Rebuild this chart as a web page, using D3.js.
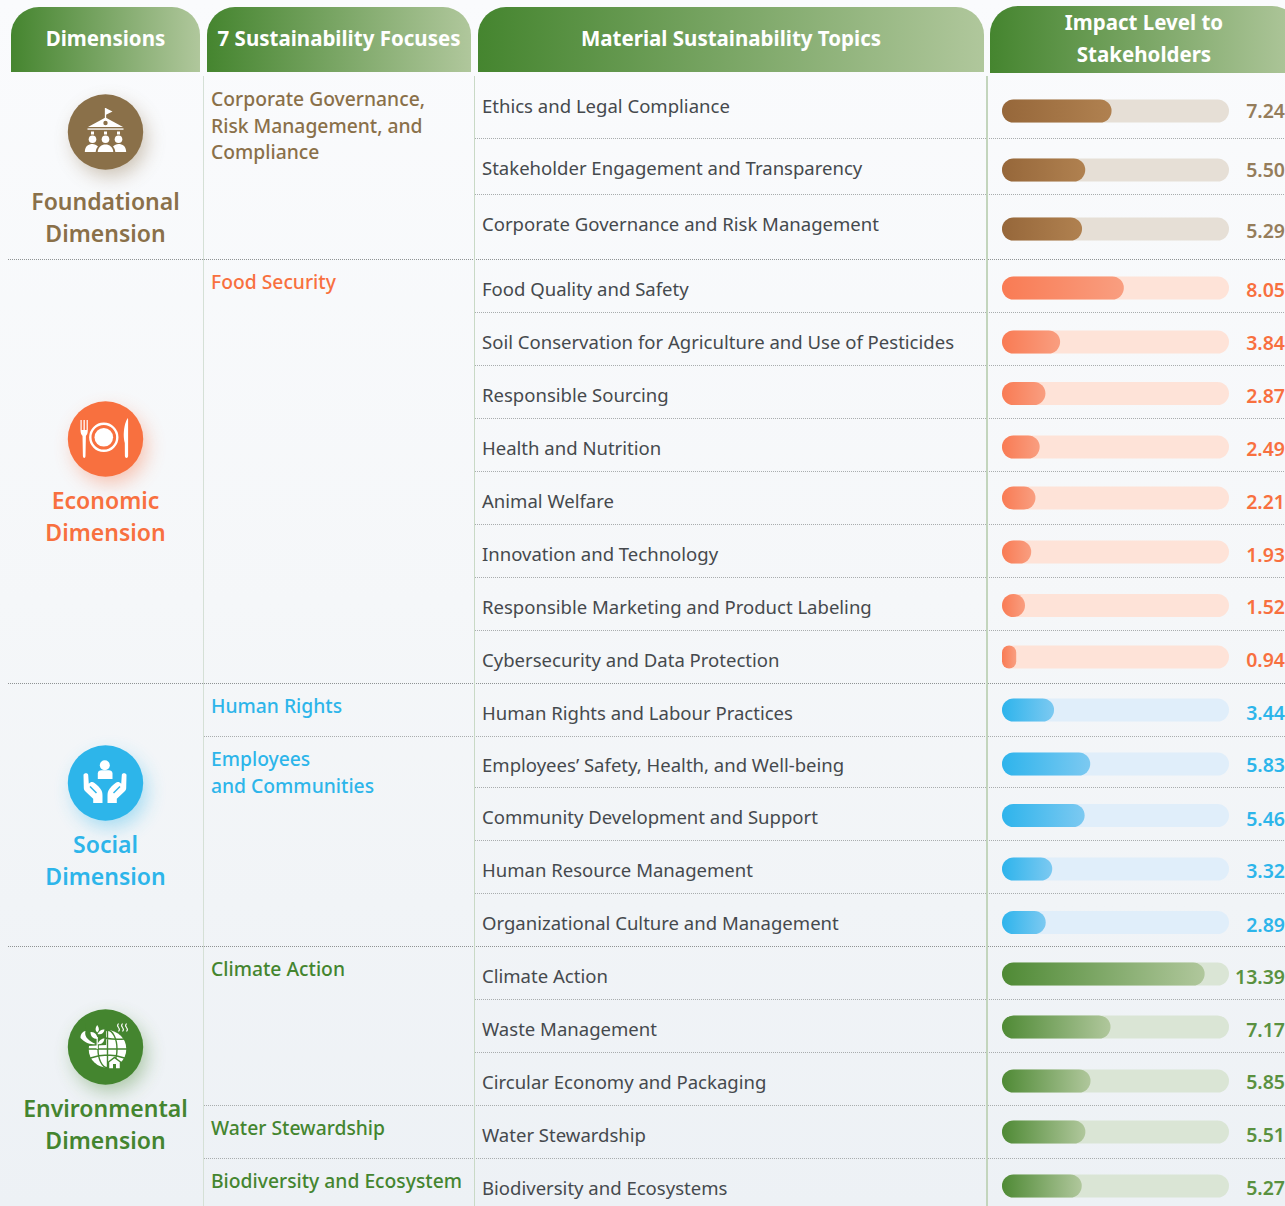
<!DOCTYPE html>
<html>
<head>
<meta charset="utf-8">
<script src="https://cdn.jsdelivr.net/npm/d3@7"></script>
<style>
  body { margin: 0; background: #f9fafc; overflow: hidden; }
  svg { display: block; }
  text { font-family: "Noto Sans", sans-serif; }
</style>
</head>
<body>
<div id="chart"></div>
<script>
// Chart values
const headers = [["Dimensions"], ["7 Sustainability Focuses"], ["Material Sustainability Topics"], ["Impact Level to", "Stakeholders"]];
const dimensions = ["Foundational", "Economic", "Social", "Environmental"];
const focuses = [
  ["Corporate Governance,", "Risk Management, and", "Compliance"],
  ["Food Security"],
  ["Human Rights"],
  ["Employees", "and Communities"],
  ["Climate Action"],
  ["Water Stewardship"],
  ["Biodiversity and Ecosystem"]
];
const focusDimension = [0, 1, 2, 2, 3, 3, 3];
const topics = [
  "Ethics and Legal Compliance",
  "Stakeholder Engagement and Transparency",
  "Corporate Governance and Risk Management",
  "Food Quality and Safety",
  "Soil Conservation for Agriculture and Use of Pesticides",
  "Responsible Sourcing",
  "Health and Nutrition",
  "Animal Welfare",
  "Innovation and Technology",
  "Responsible Marketing and Product Labeling",
  "Cybersecurity and Data Protection",
  "Human Rights and Labour Practices",
  "Employees\u2019 Safety, Health, and Well-being",
  "Community Development and Support",
  "Human Resource Management",
  "Organizational Culture and Management",
  "Climate Action",
  "Waste Management",
  "Circular Economy and Packaging",
  "Water Stewardship",
  "Biodiversity and Ecosystems"
];
const impact = [7.24, 5.50, 5.29, 8.05, 3.84, 2.87, 2.49, 2.21, 1.93, 1.52, 0.94, 3.44, 5.83, 5.46, 3.32, 2.89, 13.39, 7.17, 5.85, 5.51, 5.27];
const topicDimension = [0, 0, 0, 1, 1, 1, 1, 1, 1, 1, 1, 2, 2, 2, 2, 2, 3, 3, 3, 3, 3];

// Layout
const width = 1285;
const height = 1206;
const dimColor = ["#8a7049", "#f8703f", "#2db5ea", "#44852f"];
const valueColor = ["#957d5b", "#f8703f", "#2db5ea", "#5a9140"];
const trackColor = ["#e6dfd6", "#fee3d8", "#e0eefa", "#dae5d5"];
const barFrom = ["#96673a", "#f97b54", "#2eb4ec", "#4f8a35"];
const barTo = ["#b08150", "#f99e80", "#7cc9f1", "#b0c79c"];
const headerBox = [[11, 200], [207, 471], [478, 984], [990, 1300]];
const headerCenter = [105.5, 339, 731, 1144];
const rowLines = [138.5, 194.5, 312.5, 365.5, 418.5, 471.5, 524.5, 577.5, 630.5, 787.5, 840.5, 893.5, 999.5, 1052.5];
const dimLines = [259.5, 683.5, 946.5];
const focusLines = [736.5, 1105.5, 1158.5];
const barCenters = [111, 170, 229, 288, 342, 393.5, 447, 498, 552, 605.5, 657, 710, 764, 815.5, 869, 922.5, 974, 1027, 1081, 1132, 1186];
const topicCenters = [107, 169, 225, 290, 343, 396, 449, 502, 555, 608, 661, 714, 766, 818, 871, 924, 977, 1030, 1083, 1136, 1189];
const valueCenters = [111, 170, 231, 290, 343, 396, 449, 502, 555, 607, 660, 713, 765, 819, 871, 925, 977, 1030, 1082, 1135, 1188];
const focusTop = [100, 283, 707, 760, 970, 1129, 1182];
const dimCircleY = [132, 439, 783, 1047];
const dimLabelY = [202, 501, 845, 1109];

const svg = d3.select("#chart").append("svg").attr("width", width).attr("height", height);
const defs = svg.append("defs");

const x = d3.scaleLinear().domain([0, 15]).range([1002, 1229]);
const barY = d3.scaleOrdinal().domain(topics).range(barCenters);
const topicY = d3.scaleOrdinal().domain(topics).range(topicCenters);
const valueY = d3.scaleOrdinal().domain(topics).range(valueCenters);
const barH = 23;

// Hand drawn white pictograms, centred on the badge
const iconDraw = [
  function (g, c) {
    g.append("path").attr("d", "M0,-24V-13").attr("stroke", "#fff").attr("stroke-width", 1.3);
    g.append("path").attr("d", "M0,-24L7,-20.5L0,-17Z");
    g.append("path").attr("d", "M0,-14.5L17.5,-5H-17.5Z");
    g.append("circle").attr("cy", -9).attr("r", 2.2).attr("fill", c);
    g.append("rect").attr("x", -18).attr("y", -3.6).attr("width", 36).attr("height", 1.3);
    [-13, 0, 13].forEach(dx => {
      g.append("rect").attr("x", dx - 1.5).attr("y", -0.5).attr("width", 3).attr("height", 3);
      g.append("circle").attr("cx", dx).attr("cy", 7.3).attr("r", 3.8);
    });
    g.append("path").attr("d", "M-20.7,20C-20.5,14 -17,12 -13,12C-11,12 -9,13 -7.5,14.5C-9,16 -9.6,18 -9.8,20Z");
    g.append("path").attr("d", "M20.7,20C20.5,14 17,12 13,12C11,12 9,13 7.5,14.5C9,16 9.6,18 9.8,20Z");
    g.append("path").attr("d", "M-7.8,20C-7.5,15 -4,12.5 0,12.5C4,12.5 7.5,15 7.8,20Z");
  },
  function (g, c) {
    g.append("path").attr("d", "M-25,-19V-9C-25,-5 -23.5,-4 -23,-3L-22.6,17C-22.5,19.5 -20,19.5 -20,17L-19.6,-3C-19,-4 -17.7,-5 -17.7,-9V-19H-18.9V-9H-20.7V-19H-22V-9H-23.8V-19Z");
    g.append("circle").attr("cx", -1.7).attr("cy", -1.7).attr("r", 13.5)
      .attr("fill", "none").attr("stroke", "#fff").attr("stroke-width", 2.4);
    g.append("circle").attr("cx", -1.7).attr("cy", -1.7).attr("r", 9.3);
    g.append("path").attr("d", "M22,-20.5C19.5,-17 18,-9 18.3,-2C18.5,1 19,3 19.3,4L19.4,17C19.5,19.5 22.5,19.5 22.6,17V-19C22.6,-20.5 22.4,-21 22,-20.5Z");
  },
  function (g, c) {
    g.append("circle").attr("cx", -0.7).attr("cy", -17.7).attr("r", 5);
    g.append("path").attr("d", "M-7.7,-4V-9.5C-7.7,-11.5 -6,-12.7 -4,-12.7H3.3C5.3,-12.7 7,-11.5 7,-9.5V-4Z");
    [0, 1].forEach(m => {
      const h = g.append("g").attr("transform", m ? "translate(-1,0) scale(-1,1)" : null);
      h.append("path").attr("d", "M-22,-8C-22,-10 -17.3,-10.5 -17.3,-8L-16.7,0.7C-15,-1 -13,-1.5 -11,0C-8,2.5 -5.5,4.5 -4,7.5C-3.2,9 -3,11 -3,13V20H-12.3V15.7L-20,8.5C-21,7.5 -21.7,6.5 -21.7,5Z");
      h.append("path").attr("d", "M-15.5,3.5L-9,10").attr("stroke", c).attr("stroke-width", 1.5).attr("fill", "none");
    });
  },
  function (g, c) {
    g.append("circle").attr("cx", 2).attr("cy", 2).attr("r", 18.8);
    g.append("path").attr("d", "M-20,-24H0.6V-2L-18,-1Z").attr("fill", c);
    const grid = g.append("g").attr("fill", "none").attr("stroke", c).attr("stroke-width", 1.4);
    grid.append("path").attr("d", "M-18,2H22M2,-18V22M-15,11Q2,5 19,11M-8,-11Q2,-7 19,-8");
    grid.append("ellipse").attr("cx", 2).attr("cy", 2).attr("rx", 9.5).attr("ry", 18.8);
    // plant on the left of the globe
    g.append("path").attr("d", "M-8.3,-10V2").attr("stroke", "#fff").attr("stroke-width", 1.2);
    g.append("path").attr("d", "M-8.3,-22C-10.5,-19 -10.5,-16.5 -8.3,-14.5C-6,-16.5 -6,-19 -8.3,-22Z");
    g.append("path").attr("d", "M-8,-13C-6,-17 -3,-18 -1,-17.5C-1.5,-14 -4,-12 -8,-13Z");
    g.append("path").attr("d", "M-8,-8C-13,-8 -15,-11 -15,-15C-11,-15.5 -8,-12 -8,-8Z");
    g.append("path").attr("d", "M-8,-3C-6,-8 -2,-9 -1,-8.5C-1.5,-5 -4,-2 -8,-3Z");
    g.append("path").attr("d", "M-10,-3C-16,-2 -21,-5 -25,-9C-25,-13 -23,-15.5 -20,-16C-21,-12 -20,-8 -10,-3Z");
    // steam
    const steam = g.append("g").attr("fill", "none").attr("stroke", "#fff").attr("stroke-width", 1.1);
    [13, 17, 21].forEach(dx => steam.append("path").attr("d", `M${dx},-23.5q-1.8,2 0,4q1.8,2 0,4`));
    // factory at the bottom
    g.append("path").attr("d", "M3,22V15L9,10.5L15,15V22Z").attr("stroke", c).attr("stroke-width", 1.5);
    g.append("rect").attr("x", 7.5).attr("y", 17).attr("width", 3).attr("height", 5).attr("fill", c);
  }
];

function linear(id, stops, x2, y2) {
  const g = defs.append("linearGradient").attr("id", id)
    .attr("x1", 0).attr("y1", 0).attr("x2", x2).attr("y2", y2);
  stops.forEach((s, i) => g.append("stop").attr("offset", i / (stops.length - 1)).attr("stop-color", s));
}
linear("bg", ["#fafbfd", "#f5f7f9", "#edf1f5"], 0, 1);
linear("head", ["#45852f", "#b0c79c"], 1, 0);
dimensions.forEach((d, i) => linear("bar" + i, [barFrom[i], barTo[i]], 1, 0));

defs.append("filter").attr("id", "glow")
  .attr("x", "-60%").attr("y", "-60%").attr("width", "220%").attr("height", "220%")
  .append("feGaussianBlur").attr("stdDeviation", 10);

svg.append("rect").attr("width", width).attr("height", height).attr("fill", "url(#bg)");

// Header tabs
const r = 28;
headers.forEach((lines, i) => {
  const [x0, x1] = headerBox[i];
  const top = i === 3 ? 6 : 7;
  const bottom = i === 3 ? 73 : 72;
  svg.append("path")
    .attr("d", `M${x0},${bottom}V${top + r}A${r},${r} 0 0 1 ${x0 + r},${top}H${x1 - r}A${r},${r} 0 0 1 ${x1},${top + r}V${bottom}Z`)
    .attr("fill", "url(#head)");
  lines.forEach((line, j) => {
    svg.append("text")
      .attr("x", headerCenter[i])
      .attr("y", lines.length === 1 ? 39 : 23 + j * 32)
      .attr("dy", "0.35em")
      .attr("text-anchor", "middle")
      .attr("font-size", 20.5)
      .attr("font-weight", 700)
      .attr("fill", "#fff")
      .text(line);
  });
});

// Grid lines
function dotted(lines, x0, color) {
  svg.append("g").selectAll("line").data(lines).enter().append("line")
    .attr("x1", x0).attr("x2", width)
    .attr("y1", d => d).attr("y2", d => d)
    .attr("stroke", color)
    .attr("stroke-dasharray", "1 1");
}
dotted(rowLines, 475, "#a9adae");
dotted(focusLines, 204, "#a9adae");
dotted(dimLines, 8, "#8f9394");

[[203.5, "#d5e0d6", 1], [474.5, "#c9d9c6", 1], [987, "#c3d5bd", 2]].forEach(v => {
  svg.append("line")
    .attr("x1", v[0]).attr("x2", v[0]).attr("y1", 76).attr("y2", height)
    .attr("stroke", v[1]).attr("stroke-width", v[2]);
});

// Dimension badges
dimensions.forEach((d, i) => {
  svg.append("circle").attr("cx", 110).attr("cy", dimCircleY[i] + 8).attr("r", 36)
    .attr("fill", dimColor[i]).attr("opacity", 0.42).attr("filter", "url(#glow)");
  svg.append("circle").attr("cx", 105.5).attr("cy", dimCircleY[i]).attr("r", 37.7).attr("fill", dimColor[i]);
  const icon = svg.append("g").attr("transform", `translate(105.5,${dimCircleY[i]})`).attr("fill", "#fff");
  iconDraw[i](icon, dimColor[i]);
  [d, "Dimension"].forEach((line, j) => {
    svg.append("text")
      .attr("x", 105.5).attr("y", dimLabelY[i] + j * 32).attr("dy", "0.35em")
      .attr("text-anchor", "middle")
      .attr("font-size", 23).attr("font-weight", 600)
      .attr("fill", dimColor[i])
      .text(line);
  });
});

// Focus labels
focuses.forEach((lines, i) => {
  lines.forEach((line, j) => {
    svg.append("text")
      .attr("x", 211).attr("y", focusTop[i] + j * 26.5 - 0.5).attr("dy", "0.35em")
      .attr("font-size", 19.3).attr("font-weight", 500)
      .attr("fill", dimColor[focusDimension[i]])
      .text(line);
  });
});

// Topic labels
svg.append("g").selectAll("text").data(topics).enter().append("text")
  .attr("x", 482)
  .attr("y", d => topicY(d) - 0.5)
  .attr("dy", "0.35em")
  .attr("font-size", 18.55)
  .attr("fill", "#45494d")
  .text(d => d);

// Bars
const rows = svg.append("g").selectAll("g").data(topics).enter().append("g");
rows.append("rect")
  .attr("x", x(0)).attr("width", x(15) - x(0))
  .attr("y", d => barY(d) - barH / 2).attr("height", barH)
  .attr("rx", barH / 2)
  .attr("fill", (d, i) => trackColor[topicDimension[i]]);
rows.append("rect")
  .attr("x", x(0)).attr("width", (d, i) => x(impact[i]) - x(0))
  .attr("y", d => barY(d) - barH / 2).attr("height", barH)
  .attr("rx", (d, i) => Math.min(barH / 2, (x(impact[i]) - x(0)) / 2))
  .attr("fill", (d, i) => `url(#bar${topicDimension[i]})`);
rows.append("text")
  .attr("x", 1285)
  .attr("y", d => valueY(d))
  .attr("dy", "0.35em")
  .attr("text-anchor", "end")
  .attr("font-size", 19.5).attr("font-weight", 600)
  .attr("fill", (d, i) => valueColor[topicDimension[i]])
  .text((d, i) => impact[i].toFixed(2));
</script>
</body>
</html>
